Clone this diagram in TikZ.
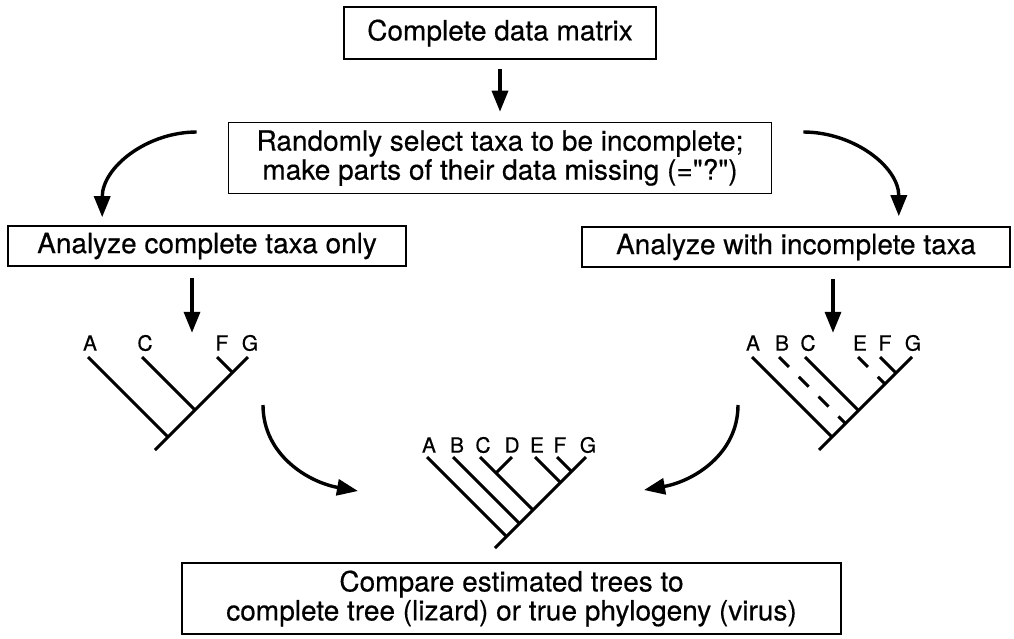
\documentclass[tikz,border=0pt]{standalone}
\usepackage{fontspec}
\setmainfont{TeX Gyre Heros}[FakeBold=0.4]
\usetikzlibrary{arrows.meta}
\usetikzlibrary{positioning}

\tikzset{
  box/.style={draw, line width=1.6pt, inner sep=0pt, align=center, font=\fontsize{28}{29}\selectfont},
  taxon/.style={inner sep=0pt, font=\fontsize{21}{21}\selectfont},
  branch/.style={line width=2.9pt},
  missing/.style={branch, dash pattern=on 14pt off 14pt},
  flow/.style={->, line width=3.4pt},
  >={Triangle[length=21pt,width=16pt]}
}

\begin{document}
\begin{tikzpicture}[x=1pt,y=-1pt]
    \useasboundingbox (0,0) rectangle (1014,638);

    \node (full) [box, minimum width=312pt, minimum height=52pt] at (500,33) {Complete data matrix};
    \node (select) [box, minimum width=543pt, minimum height=71pt] at (500,158)
        {Randomly select taxa to be incomplete;\\make parts of their data missing (=\textquotedbl?\textquotedbl)};
    \node (onlycomp) [box, minimum width=398pt, minimum height=40pt] at (207,246) {Analyze complete taxa only};
    \node (withinc) [box, minimum width=428pt, minimum height=40pt] at (796,247) {Analyze with incomplete taxa};
    \node (compare) [box, minimum width=659pt, minimum height=71pt] at (511.5,598.5)
        {Compare estimated trees to\\complete tree (lizard) or true phylogeny (virus)};

    \path [->] (full) edge[flow, shorten <=9pt, shorten >=10pt] (select);
    \draw [flow] ([xshift=-31pt,yshift=26pt]select.west) to[out=180,in=90] ([xshift=95pt,yshift=8pt]onlycomp.north west);
    \draw [flow] ([xshift=31pt,yshift=26pt]select.east) to[out=0,in=90] ([xshift=-112pt,yshift=10pt]withinc.north east);
    \draw [flow, shorten <=11pt] ([xshift=-15pt]onlycomp.south) -- ++(0,66);
    \draw [flow, shorten <=11pt] ([xshift=37pt]withinc.south) -- ++(0,65);

    \node (lA) [taxon] at (90,343) {A};
    \node (lC) [taxon] at (145,343) {C};
    \node (lF) [taxon] at (222,343) {F};
    \node (lG) [taxon] at (250,343) {G};
    \draw [branch] (155,450) -- (248,357);
    \draw [branch] (88,357) -- (168,437);
    \draw [branch] (142,357) -- (195,410);
    \draw [branch] (217,357) -- (232.5,372.5);

    \node (mA) [taxon] at (429,445) {A};
    \node (mB) [taxon] at (457,445) {B};
    \node (mC) [taxon] at (483,445) {C};
    \node (mD) [taxon] at (512,445) {D};
    \node (mE) [taxon] at (537,445) {E};
    \node (mF) [taxon] at (560,445) {F};
    \node (mG) [taxon] at (588,445) {G};
    \draw [branch] (495,548) -- (586,457);
    \draw [branch] (427,457) -- (506.5,536.5);
    \draw [branch] (453,457) -- (519.5,523.5);
    \draw [branch] (480,457) -- (533,510);
    \draw [branch] (512,457) -- (496,473);
    \draw [branch] (535,457) -- (560.5,482.5);
    \draw [branch] (557,457) -- (571.5,471.5);

    \node (rA) [taxon] at (753,343) {A};
    \node (rB) [taxon] at (782,343) {B};
    \node (rC) [taxon] at (808,343) {C};
    \node (rE) [taxon] at (860,343) {E};
    \node (rF) [taxon] at (885,343) {F};
    \node (rG) [taxon] at (913,343) {G};
    \draw [branch] (819,450) -- (912,357);
    \draw [branch] (752,357) -- (832,437);
    \draw [missing] (779,357) -- (845.5,423.5);
    \draw [branch] (805,357) -- (858.5,410.5);
    \draw [missing] (858,357) -- (885,384);
    \draw [branch] (880,357) -- (896,373);

    \draw [flow] (263,405) to[out=-90,in=170] (358,491);
    \draw [flow] (738,405) to[out=-90,in=10] (644,490);
\end{tikzpicture}
\end{document}
